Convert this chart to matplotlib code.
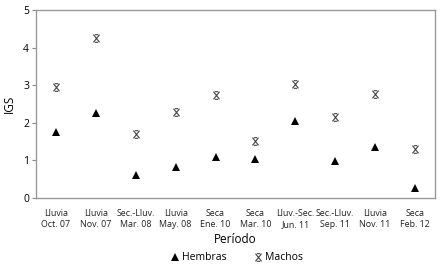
import matplotlib
matplotlib.use("Agg")
import matplotlib.pyplot as plt
from matplotlib.path import Path

# ---------------- DATA ----------------
periodos = ["Lluvia\nOct. 07", "Lluvia\nNov. 07", "Sec.-Lluv.\nMar. 08", "Lluvia\nMay. 08",
            "Seca\nEne. 10", "Seca\nMar. 10", "Lluv.-Sec.\nJun. 11", "Sec.-Lluv.\nSep. 11",
            "Lluvia\nNov. 11", "Seca\nFeb. 12"]
hembras = [1.75, 2.27, 0.61, 0.82, 1.08, 1.03, 2.05, 0.98, 1.36, 0.26]
machos = [2.95, 4.26, 1.70, 2.30, 2.75, 1.51, 3.02, 2.15, 2.76, 1.30]
y_ticks = [0, 1, 2, 3, 4, 5]
# --------------------------------------

plt.rcParams["font.family"] = ["Open Sans", "DejaVu Sans"]

# x with small bars on top and bottom, like the original asterisk symbol
xbar = Path([(-0.8, -1), (0.8, 1), (-0.8, 1), (0.8, -1),
             (-0.45, 1), (0.45, 1), (-0.45, -1), (0.45, -1)],
            [Path.MOVETO, Path.LINETO] * 4)

fig = plt.figure(figsize=(4.46, 2.71), dpi=100)
ax = fig.add_axes([36 / 446, 1 - 198 / 271, (435 - 36) / 446, (198 - 10) / 271])

x = list(range(len(periodos)))
ax.plot(x, hembras, ls="none", marker="^", ms=6, mfc="black", mec="black", mew=0,
        label="Hembras", zorder=3)
ax.plot(x, machos, ls="none", marker=xbar, ms=5.5, mfc="none", mec="#444444", mew=0.8,
        label="Machos", zorder=3)

ax.set_xlim(-0.5, 9.5)
ax.set_ylim(0, 5)
ax.set_yticks(y_ticks)
ax.set_xticks(x)
ax.set_xticklabels(periodos, fontsize=6.4, color="#222222", linespacing=1.3)
ax.tick_params(axis="x", length=0, pad=8)
ax.tick_params(axis="y", length=3, width=0.8, color="#888888", labelsize=7.5, pad=2)
for s in ax.spines.values():
    s.set_color("#999999")
    s.set_linewidth(1.0)

ax.set_ylabel("IGS", fontsize=8.5, labelpad=5)
ax.set_xlabel("Período", fontsize=8.5, labelpad=3)

fig.legend(loc="center", bbox_to_anchor=(0.53, 1 - 258 / 271), ncol=2, frameon=False,
           fontsize=7.5, handletextpad=0.2, handlelength=1.0, columnspacing=2.5)

fig.savefig("out.png", dpi=100)
